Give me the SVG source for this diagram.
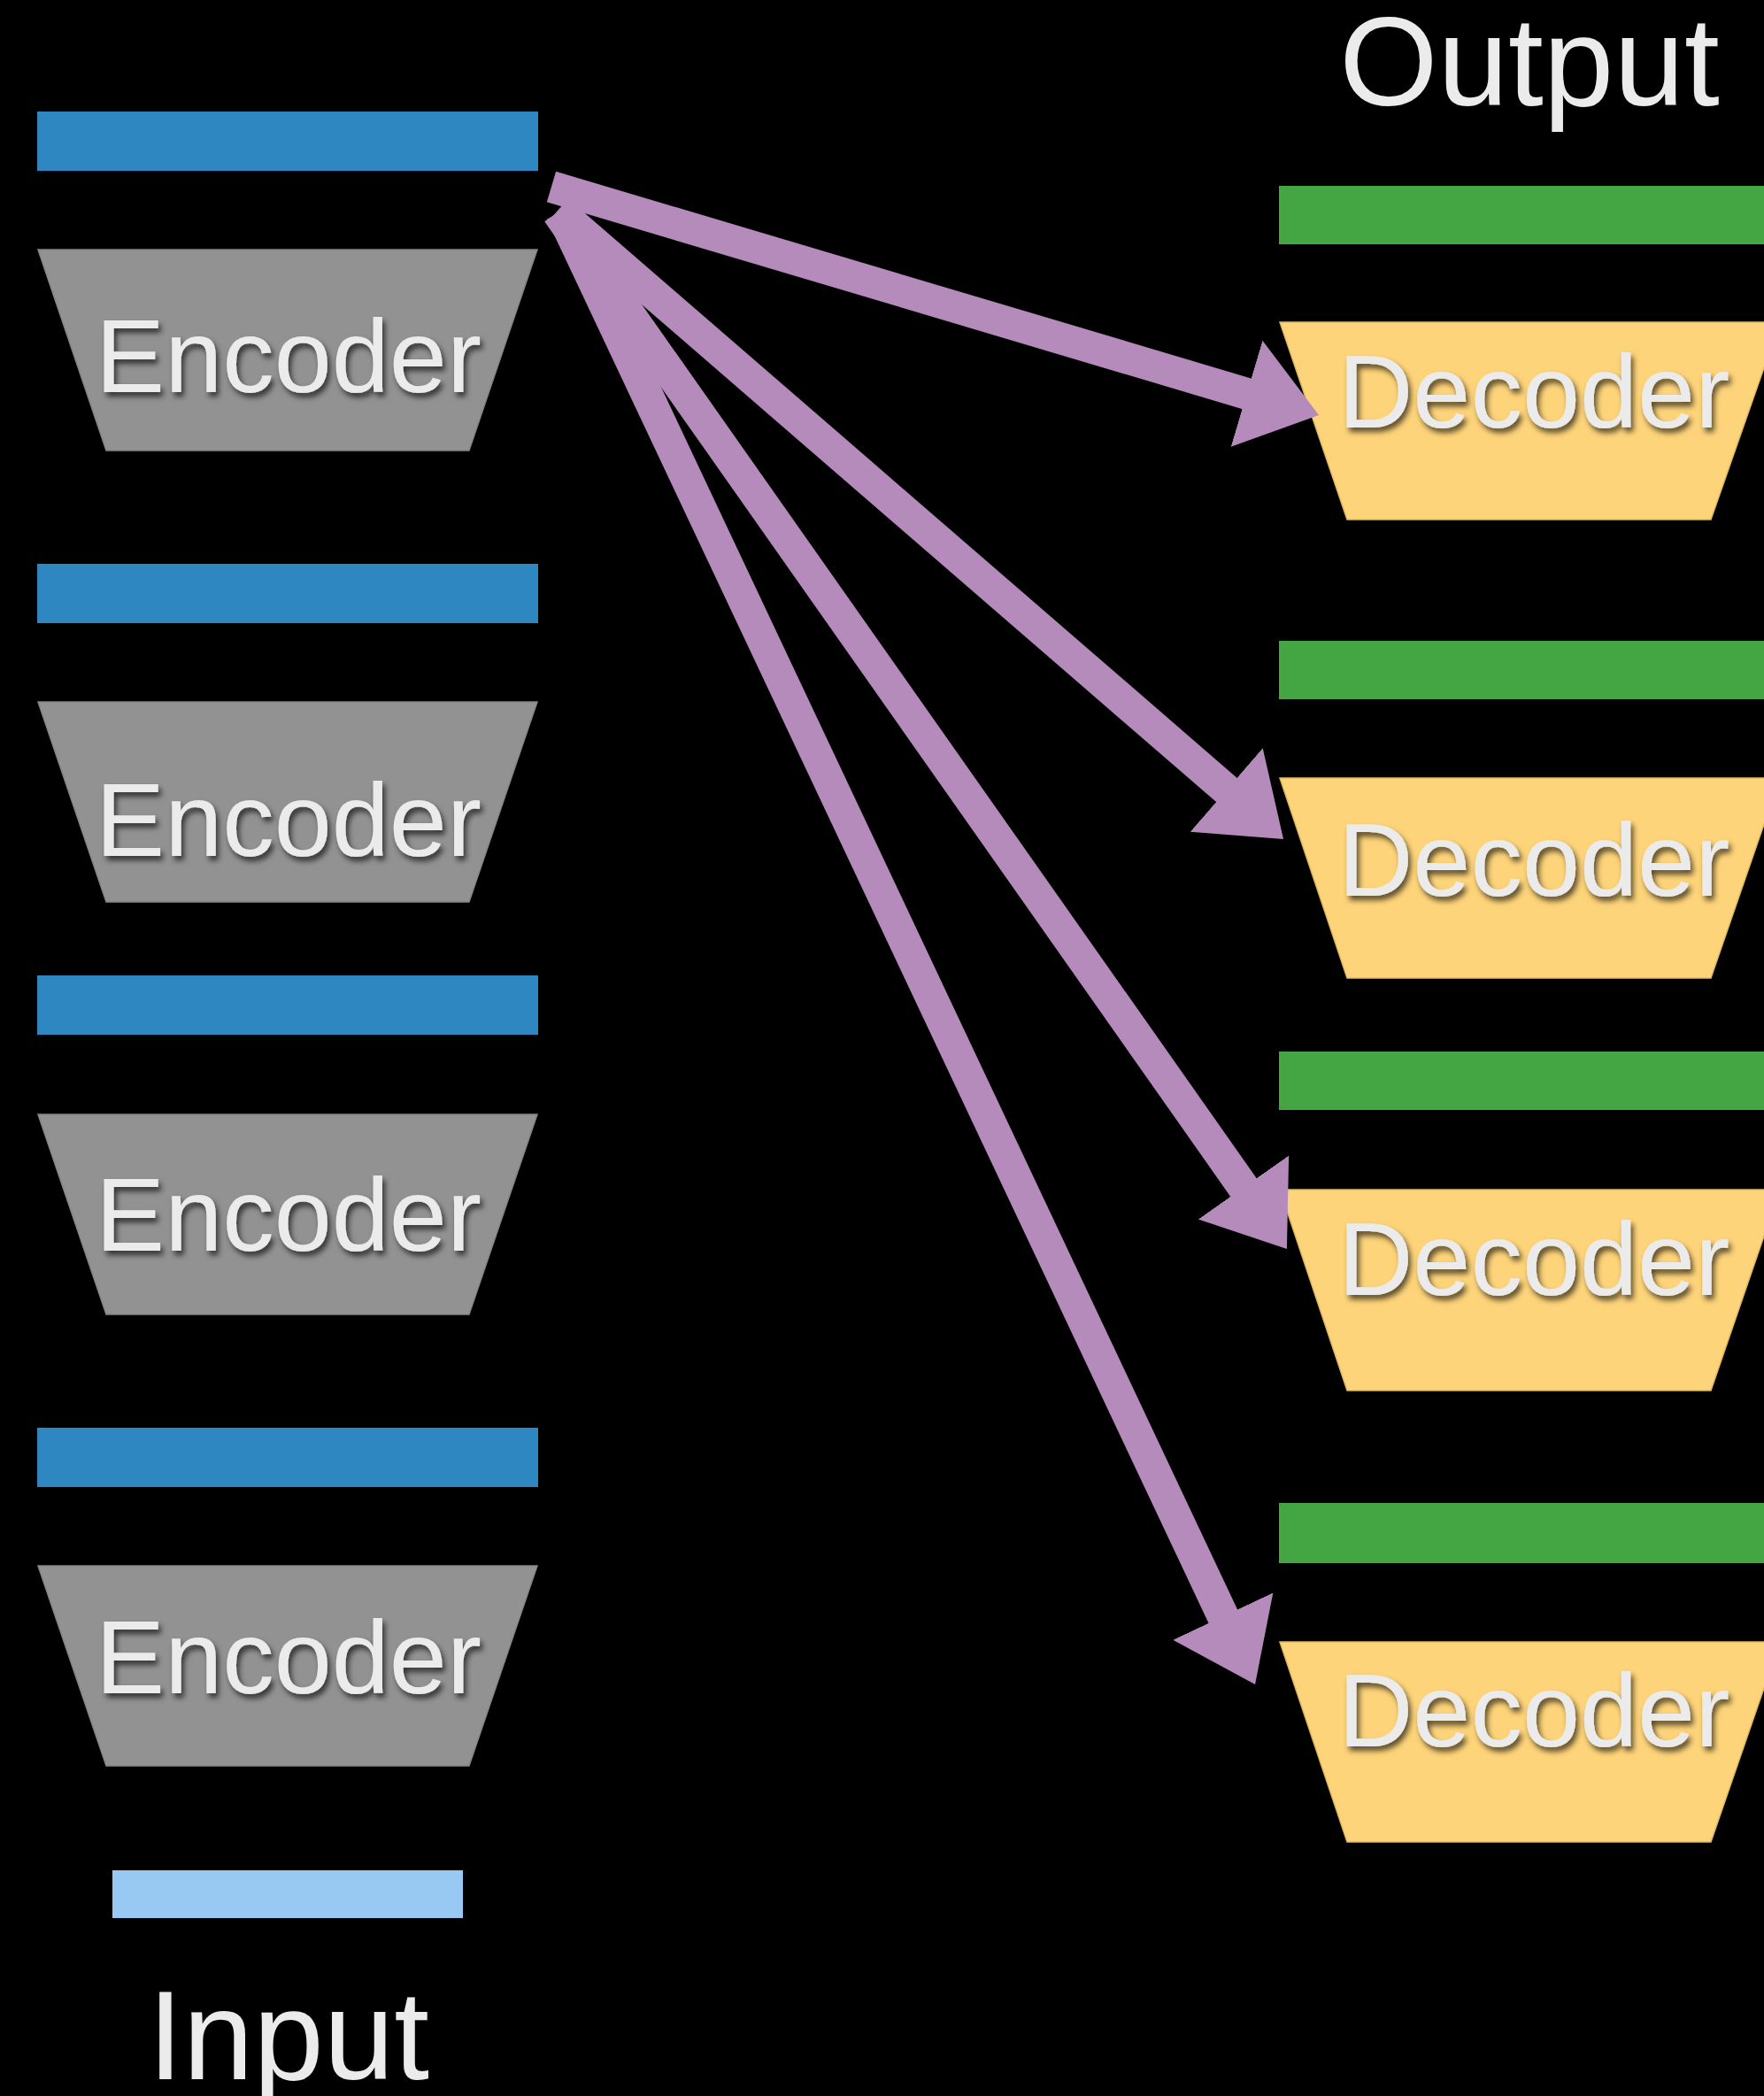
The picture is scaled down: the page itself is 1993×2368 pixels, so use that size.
<svg xmlns="http://www.w3.org/2000/svg" width="1993" height="2368" viewBox="0 0 1993 2368">
  <defs>
    <style>
      .bg { fill: #000000; }
      .enc-bar { fill: #2e87c1; }
      .dec-bar { fill: #43a642; }
      .in-bar { fill: #97c9f3; }
      .enc { fill: #929292; stroke: #858585; stroke-width: 1.5; }
      .dec { fill: #fed47a; stroke: #e0b860; stroke-width: 1.5; }
      .label { font-family: "Liberation Sans", Arial, Helvetica, sans-serif; fill: #ebebeb; text-anchor: middle; }
      .block-label { font-size: 117px; filter: url(#textShadow); }
      .title { font-size: 143px; }
      .link { fill: none; stroke: #b58bbb; stroke-width: 36; stroke-linecap: butt; marker-end: url(#head); }
    </style>
    <filter id="textShadow" x="-10%" y="-20%" width="120%" height="150%">
      <feDropShadow dx="3" dy="5" stdDeviation="3" flood-color="#000000" flood-opacity="0.65"/>
    </filter>
    <!-- triangular arrowhead: base 125 wide, 85 long; line ends 4px inside the base -->
    <marker id="head" markerUnits="userSpaceOnUse" markerWidth="90" markerHeight="130" viewBox="0 0 90 130" refX="4" refY="65" orient="auto">
      <path d="M0,2.5 L85,65 L0,127.5 Z" fill="#b58bbb"/>
    </marker>
  </defs>

  <rect class="bg" x="0" y="0" width="1993" height="2368"/>

  <!-- encoder stack (left) -->
  <g id="enc-bar-1"><rect class="enc-bar" x="42" y="126" width="566" height="67"/></g>
  <g id="encoder-1">
    <polygon class="enc" points="43,282 607,282 530,509 120,509"/>
    <text class="label block-label" x="326" y="443">Encoder</text>
  </g>

  <g id="enc-bar-2"><rect class="enc-bar" x="42" y="637" width="566" height="67"/></g>
  <g id="encoder-2">
    <polygon class="enc" points="43,793 607,793 530,1019 120,1019"/>
    <text class="label block-label" x="326" y="967">Encoder</text>
  </g>

  <g id="enc-bar-3"><rect class="enc-bar" x="42" y="1102" width="566" height="67"/></g>
  <g id="encoder-3">
    <polygon class="enc" points="43,1259 607,1259 530,1485 120,1485"/>
    <text class="label block-label" x="326" y="1413">Encoder</text>
  </g>

  <g id="enc-bar-4"><rect class="enc-bar" x="42" y="1613" width="566" height="67"/></g>
  <g id="encoder-4">
    <polygon class="enc" points="43,1769 607,1769 530,1995 120,1995"/>
    <text class="label block-label" x="326" y="1913">Encoder</text>
  </g>

  <g id="input">
    <rect class="in-bar" x="127" y="2113" width="396" height="54"/>
    <text class="label title" x="326" y="2349">Input</text>
  </g>

  <!-- decoder stack (right) -->
  <g id="output">
    <text class="label title" x="1728" y="119">Output</text>
  </g>

  <g id="dec-bar-1"><rect class="dec-bar" x="1445" y="210" width="566" height="66"/></g>
  <g id="decoder-1">
    <polygon class="dec" points="1446,364 2011,364 1933,587 1522,587"/>
    <text class="label block-label" x="1733" y="483">Decoder</text>
  </g>

  <g id="dec-bar-2"><rect class="dec-bar" x="1445" y="724" width="566" height="66"/></g>
  <g id="decoder-2">
    <polygon class="dec" points="1446,879 2011,879 1933,1105 1522,1105"/>
    <text class="label block-label" x="1733" y="1012">Decoder</text>
  </g>

  <g id="dec-bar-3"><rect class="dec-bar" x="1445" y="1188" width="566" height="66"/></g>
  <g id="decoder-3">
    <polygon class="dec" points="1446,1344 2011,1344 1933,1571 1522,1571"/>
    <text class="label block-label" x="1733" y="1463">Decoder</text>
  </g>

  <g id="dec-bar-4"><rect class="dec-bar" x="1445" y="1698" width="566" height="68"/></g>
  <g id="decoder-4">
    <polygon class="dec" points="1446,1855 2011,1855 1933,2081 1522,2081"/>
    <text class="label block-label" x="1733" y="1973">Decoder</text>
  </g>

  <!-- connectors: top encoder output fanned out to every decoder -->
  <g id="connectors">
    <line class="link" x1="634" y1="240" x2="1383.5" y2="1829.7"/>
    <line class="link" x1="630" y1="240" x2="1407.3" y2="1344.8"/>
    <line class="link" x1="630" y1="238" x2="1388.8" y2="895.0"/>
    <line class="link" x1="623" y1="211" x2="1412.4" y2="445.9"/>
  </g>
</svg>
